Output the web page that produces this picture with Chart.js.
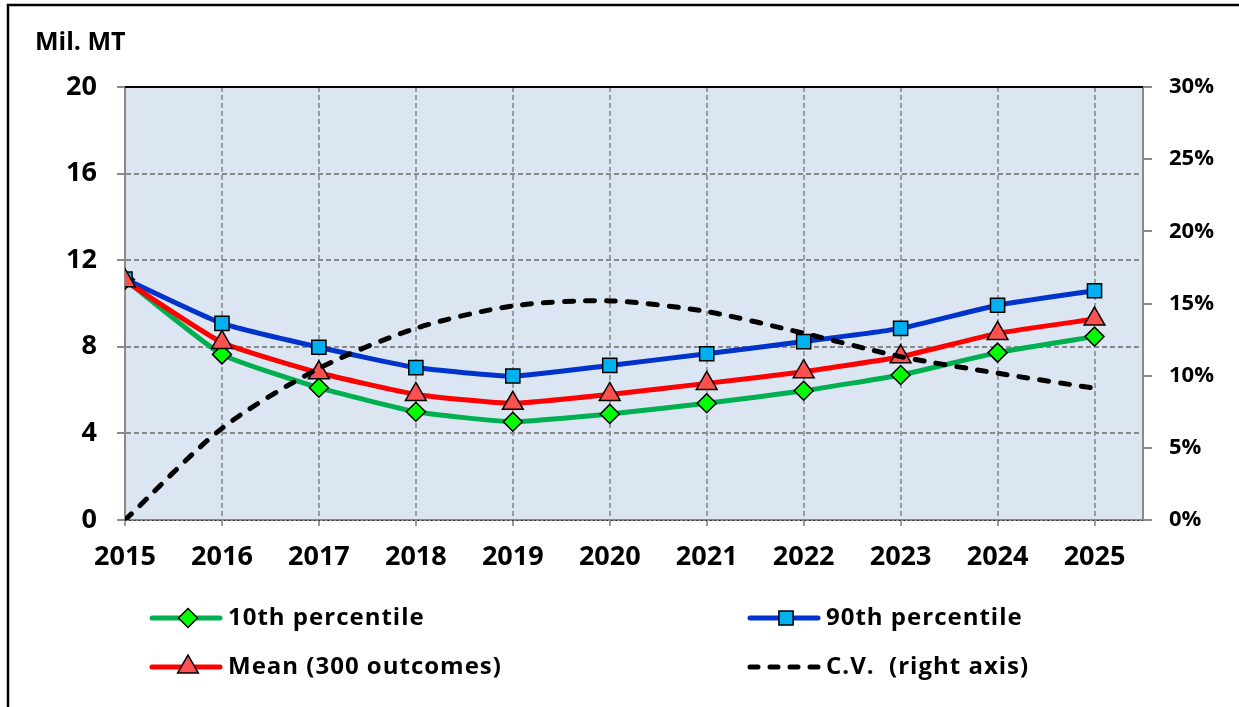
<!DOCTYPE html>
<html>
<head>
<meta charset="utf-8">
<script src="https://cdn.jsdelivr.net/npm/chart.js@4/dist/chart.umd.min.js"></script>
<style>
  html, body { margin: 0; padding: 0; background: #ffffff; }
  #wrap { width: 1239px; height: 707px; position: relative; }
</style>
</head>
<body>
<div id="wrap"><canvas id="c" width="1239" height="707"></canvas></div>
<script>
// Projection years and outcome statistics (million metric tons)
const years = [2015, 2016, 2017, 2018, 2019, 2020, 2021, 2022, 2023, 2024, 2025];
const p10 = [11.10, 7.65, 6.11, 5.00, 4.54, 4.90, 5.39, 5.97, 6.70, 7.73, 8.47];
const p90 = [11.13, 9.08, 7.98, 7.04, 6.65, 7.14, 7.68, 8.24, 8.85, 9.92, 10.59];
const meanVals = [11.05, 8.20, 6.80, 5.80, 5.39, 5.80, 6.31, 6.85, 7.54, 8.62, 9.28];
// Coefficient of variation, percent (right axis)
const cvPct = [0.0, 6.35, 10.50, 13.28, 14.83, 15.18, 14.44, 12.94, 11.32, 10.17, 9.13];

const leftTicks = [0, 4, 8, 12, 16, 20];
const rightTicks = [0, 5, 10, 15, 20, 25, 30];
const seriesNames = ['10th percentile', '90th percentile', 'Mean (300 outcomes)', 'C.V.  (right axis)'];
const unitLabel = 'Mil. MT';

const FONT = '"Open Sans", "DejaVu Sans", sans-serif';
const GRID = '#8A8A8A';

const pts = vals => years.map((yr, i) => ({ x: yr, y: vals[i] }));

// Marker path helpers used by the legend
function markerPath(ctx, style, x, y, r) {
  ctx.beginPath();
  if (style === 'rectRot') {
    ctx.moveTo(x - r, y); ctx.lineTo(x, y - r); ctx.lineTo(x + r, y); ctx.lineTo(x, y + r);
  } else if (style === 'rect') {
    const s = Math.SQRT1_2 * r;
    ctx.rect(x - s, y - s, 2 * s, 2 * s);
  } else if (style === 'triangle') {
    const a = 2 * Math.PI / 3;
    ctx.moveTo(x, y - r);
    ctx.lineTo(x + Math.sin(a) * r, y - Math.cos(a) * r);
    ctx.lineTo(x + Math.sin(2 * a) * r, y - Math.cos(2 * a) * r);
  }
  ctx.closePath();
}

const decorations = {
  id: 'decorations',
  beforeDraw(chart) {
    const { ctx, chartArea: a } = chart;
    ctx.save();
    ctx.fillStyle = '#ffffff';
    ctx.fillRect(0, 0, chart.width, chart.height);
    // outer frame (top and left edges)
    ctx.strokeStyle = '#000000';
    ctx.lineWidth = 2.5;
    ctx.beginPath();
    ctx.moveTo(chart.width, 5);
    ctx.lineTo(8, 5);
    ctx.lineTo(8, chart.height);
    ctx.stroke();
    // plot area fill
    ctx.fillStyle = '#DCE6F2';
    ctx.fillRect(a.left, a.top, a.right - a.left, a.bottom - a.top);
    ctx.restore();
  },
  afterDraw(chart) {
    const { ctx, chartArea: a } = chart;
    ctx.save();
    // plot area top edge
    ctx.strokeStyle = '#000000';
    ctx.lineWidth = 2;
    ctx.beginPath();
    ctx.moveTo(a.left, a.top);
    ctx.lineTo(a.right, a.top);
    ctx.stroke();
    // dotted category axis line
    ctx.strokeStyle = '#222222';
    ctx.lineWidth = 1;
    ctx.setLineDash([1.5, 3]);
    ctx.beginPath();
    ctx.moveTo(a.left, a.bottom + 0.5);
    ctx.lineTo(a.right, a.bottom + 0.5);
    ctx.stroke();
    ctx.setLineDash([]);

    // unit label
    ctx.fillStyle = '#000000';
    ctx.font = 'bold 25px ' + FONT;
    ctx.textAlign = 'left';
    ctx.textBaseline = 'alphabetic';
    ctx.fillText(unitLabel, 35, 50);

    // legend, two columns by two rows
    const ds = chart.data.datasets;
    const cells = [
      { i: 0, x: 152, y: 618 },
      { i: 1, x: 750, y: 618 },
      { i: 2, x: 152, y: 667 },
      { i: 3, x: 750, y: 667 }
    ];
    ctx.font = 'bold 24px ' + FONT;
    if ('letterSpacing' in ctx) ctx.letterSpacing = '1px';
    ctx.textBaseline = 'middle';
    cells.forEach(c => {
      const d = ds[c.i];
      ctx.save();
      ctx.strokeStyle = d.borderColor;
      ctx.lineWidth = 5;
      ctx.lineCap = 'round';
      if (d.borderDash) ctx.setLineDash([8, 12]);
      ctx.beginPath();
      ctx.moveTo(c.x, c.y);
      ctx.lineTo(c.x + 68, c.y);
      ctx.stroke();
      ctx.setLineDash([]);
      if (d.pointStyle && d.pointRadius > 0) {
        markerPath(ctx, d.pointStyle, c.x + 36, c.y, d.pointRadius);
        ctx.fillStyle = d.pointBackgroundColor;
        ctx.fill();
        ctx.lineWidth = 1.5;
        ctx.strokeStyle = '#000000';
        ctx.stroke();
      }
      ctx.restore();
      ctx.fillStyle = '#000000';
      ctx.fillText(d.label, c.x + 76, c.y);
    });
    ctx.restore();
  }
};

new Chart(document.getElementById('c'), {
  type: 'line',
  data: {
    datasets: [
      {
        label: seriesNames[0], data: pts(p10), yAxisID: 'y', order: 4,
        borderColor: '#00B050', borderWidth: 5, tension: 0.15,
        pointStyle: 'rectRot', pointRadius: 9.5, pointBackgroundColor: '#00FF00',
        pointBorderColor: '#000000', pointBorderWidth: 1.5
      },
      {
        label: seriesNames[1], data: pts(p90), yAxisID: 'y', order: 3,
        borderColor: '#0033CC', borderWidth: 5, tension: 0.15,
        pointStyle: 'rect', pointRadius: 10, pointBackgroundColor: '#00B0F0',
        pointBorderColor: '#000000', pointBorderWidth: 1.5
      },
      {
        label: seriesNames[2], data: pts(meanVals), yAxisID: 'y', order: 2,
        borderColor: '#FF0000', borderWidth: 5, tension: 0.15,
        pointStyle: 'triangle', pointRadius: 12, pointBackgroundColor: '#FF5050',
        pointBorderColor: '#000000', pointBorderWidth: 1.5
      },
      {
        label: seriesNames[3], data: pts(cvPct), yAxisID: 'y2', order: 1,
        borderColor: '#000000', borderWidth: 5, borderDash: [9, 12], borderCapStyle: 'round',
        tension: 0.28, pointRadius: 0
      }
    ]
  },
  options: {
    responsive: false,
    animation: false,
    devicePixelRatio: 1,
    layout: { padding: { top: 87, left: 0, right: 0, bottom: 0 } },
    plugins: { legend: { display: false }, tooltip: { enabled: false } },
    scales: {
      x: {
        type: 'linear', min: 2015, max: 2025.5,
        afterBuildTicks: s => { s.ticks = years.map(v => ({ value: v })); },
        afterFit: s => { s.height = 187; },
        ticks: {
          color: '#000000', padding: 13, maxRotation: 0, autoSkip: false,
          font: { family: FONT, weight: 'bold', size: 27 },
          callback: v => String(v)
        },
        grid: { color: '#9C9C9C', lineWidth: 2, tickLength: 8, tickColor: '#9C9C9C', tickBorderDash: [5, 3] },
        border: { color: GRID, width: 2, dash: [5, 3] }
      },
      y: {
        position: 'left', min: 0, max: 20,
        afterBuildTicks: s => { s.ticks = leftTicks.map(v => ({ value: v })); },
        afterFit: s => { s.width = 125; },
        ticks: { color: '#000000', padding: 20, font: { family: FONT, weight: 'bold', size: 27 } },
        grid: { color: GRID, lineWidth: 2, tickLength: 8, tickColor: GRID, tickBorderDash: [] },
        border: { color: GRID, width: 2, dash: [5, 3] }
      },
      y2: {
        position: 'right', min: 0, max: 30,
        afterBuildTicks: s => { s.ticks = rightTicks.map(v => ({ value: v })); },
        afterFit: s => { s.width = 96; },
        ticks: {
          color: '#000000', padding: 17, font: { family: FONT, weight: 'bold', size: 22 },
          callback: v => v + '%'
        },
        grid: { drawOnChartArea: false, tickLength: 9, tickColor: GRID, lineWidth: 2 },
        border: { color: GRID, width: 2 }
      }
    }
  },
  plugins: [decorations]
});
</script>
</body>
</html>
